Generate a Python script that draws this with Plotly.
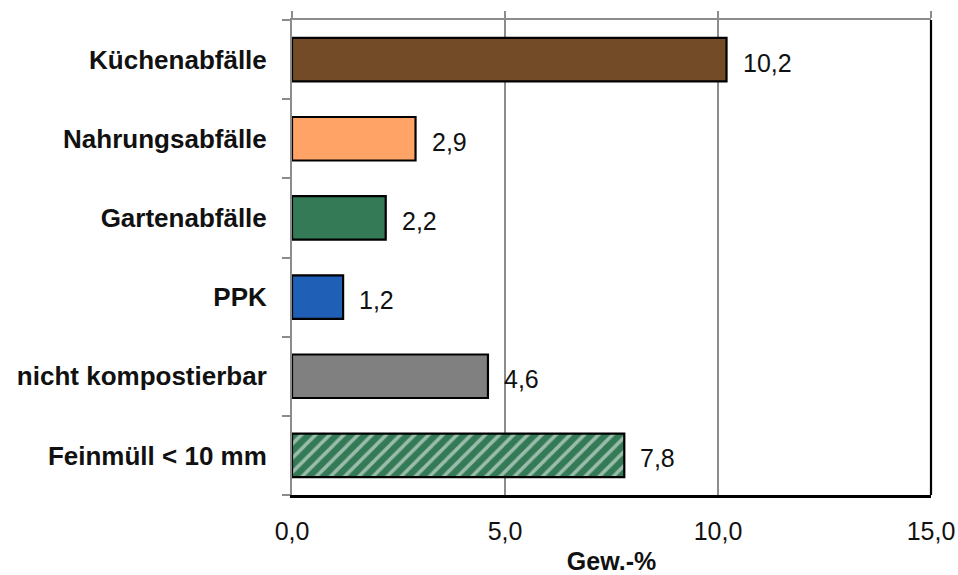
import plotly.graph_objects as go

# Waste fractions (top to bottom as displayed) and their share in Gew.-%
categories = ["Küchenabfälle", "Nahrungsabfälle", "Gartenabfälle", "PPK",
              "nicht kompostierbar", "Feinmüll < 10 mm"]
values = [10.2, 2.9, 2.2, 1.2, 4.6, 7.8]
colors = ["#734C27", "#FFA466", "#347A56", "#1F5FB5", "#808080", "#347A56"]
patterns = ["", "", "", "", "", "/"]
x_ticks = [0, 5, 10, 15]
x_tick_labels = ["0,0", "5,0", "10,0", "15,0"]

FONT = "Liberation Sans, Arial, sans-serif"
TXT = "#111111"

fig = go.Figure()
fig.add_trace(go.Bar(
    y=categories,
    x=values,
    orientation="h",
    width=0.55,
    marker=dict(
        color=colors,
        line=dict(color="#000000", width=2.2),
        pattern=dict(shape=patterns, fgcolor="#B4B4B4", bgcolor="#347A56",
                     size=10, solidity=0.35),
    ),
    hoverinfo="skip",
    showlegend=False,
))

# invisible trace to anchor the top axis
fig.add_trace(go.Scatter(x=[0, 15], y=[categories[0], categories[0]],
                         xaxis="x2", mode="markers", marker=dict(opacity=0),
                         hoverinfo="skip", showlegend=False))

# value labels next to each bar
for cat, v in zip(categories, values):
    fig.add_annotation(x=v, y=cat, text=f"{v:.1f}".replace(".", ","),
                       xanchor="left", yanchor="middle", xshift=14, yshift=-3,
                       showarrow=False,
                       font=dict(family=FONT, size=25, color=TXT))

# right frame line
fig.add_shape(type="line", xref="paper", yref="paper", x0=1, x1=1, y0=0, y1=1,
              line=dict(color="#000000", width=2.2))

fig.update_layout(
    width=958, height=575,
    margin=dict(l=292, r=27, t=20, b=80, autoexpand=False),
    paper_bgcolor="white", plot_bgcolor="white",
    xaxis=dict(
        range=[0, 15], tickvals=x_ticks, ticktext=x_tick_labels,
        showgrid=True, gridcolor="#8C8C8C", gridwidth=1.5,
        zeroline=False, showline=True, linecolor="#000000", linewidth=2.5,
        ticks="", ticklabelstandoff=12, automargin=False,
        tickfont=dict(family=FONT, size=25, color=TXT),
        title=dict(text="<b>Gew.-%</b>", standoff=12,
                   font=dict(family=FONT, size=25, color=TXT)),
        fixedrange=True,
    ),
    xaxis2=dict(
        range=[0, 15], overlaying="x", side="top", tickvals=x_ticks,
        showticklabels=False, showgrid=False, zeroline=False,
        showline=True, linecolor="#8C8C8C", linewidth=1.5, automargin=False,
        ticks="outside", ticklen=7, tickcolor="#8C8C8C", tickwidth=1.5,
    ),
    yaxis=dict(
        categoryorder="array", categoryarray=categories[::-1],
        showline=True, linecolor="#8C8C8C", linewidth=2,
        ticks="outside", tickson="boundaries", ticklen=8,
        tickcolor="#8C8C8C", tickwidth=1.5, automargin=False,
        showgrid=False, zeroline=False, ticklabelstandoff=18,
        tickfont=dict(family=FONT, size=26, color=TXT, weight="bold"),
        fixedrange=True,
    ),
)

fig.write_html("out.html")
